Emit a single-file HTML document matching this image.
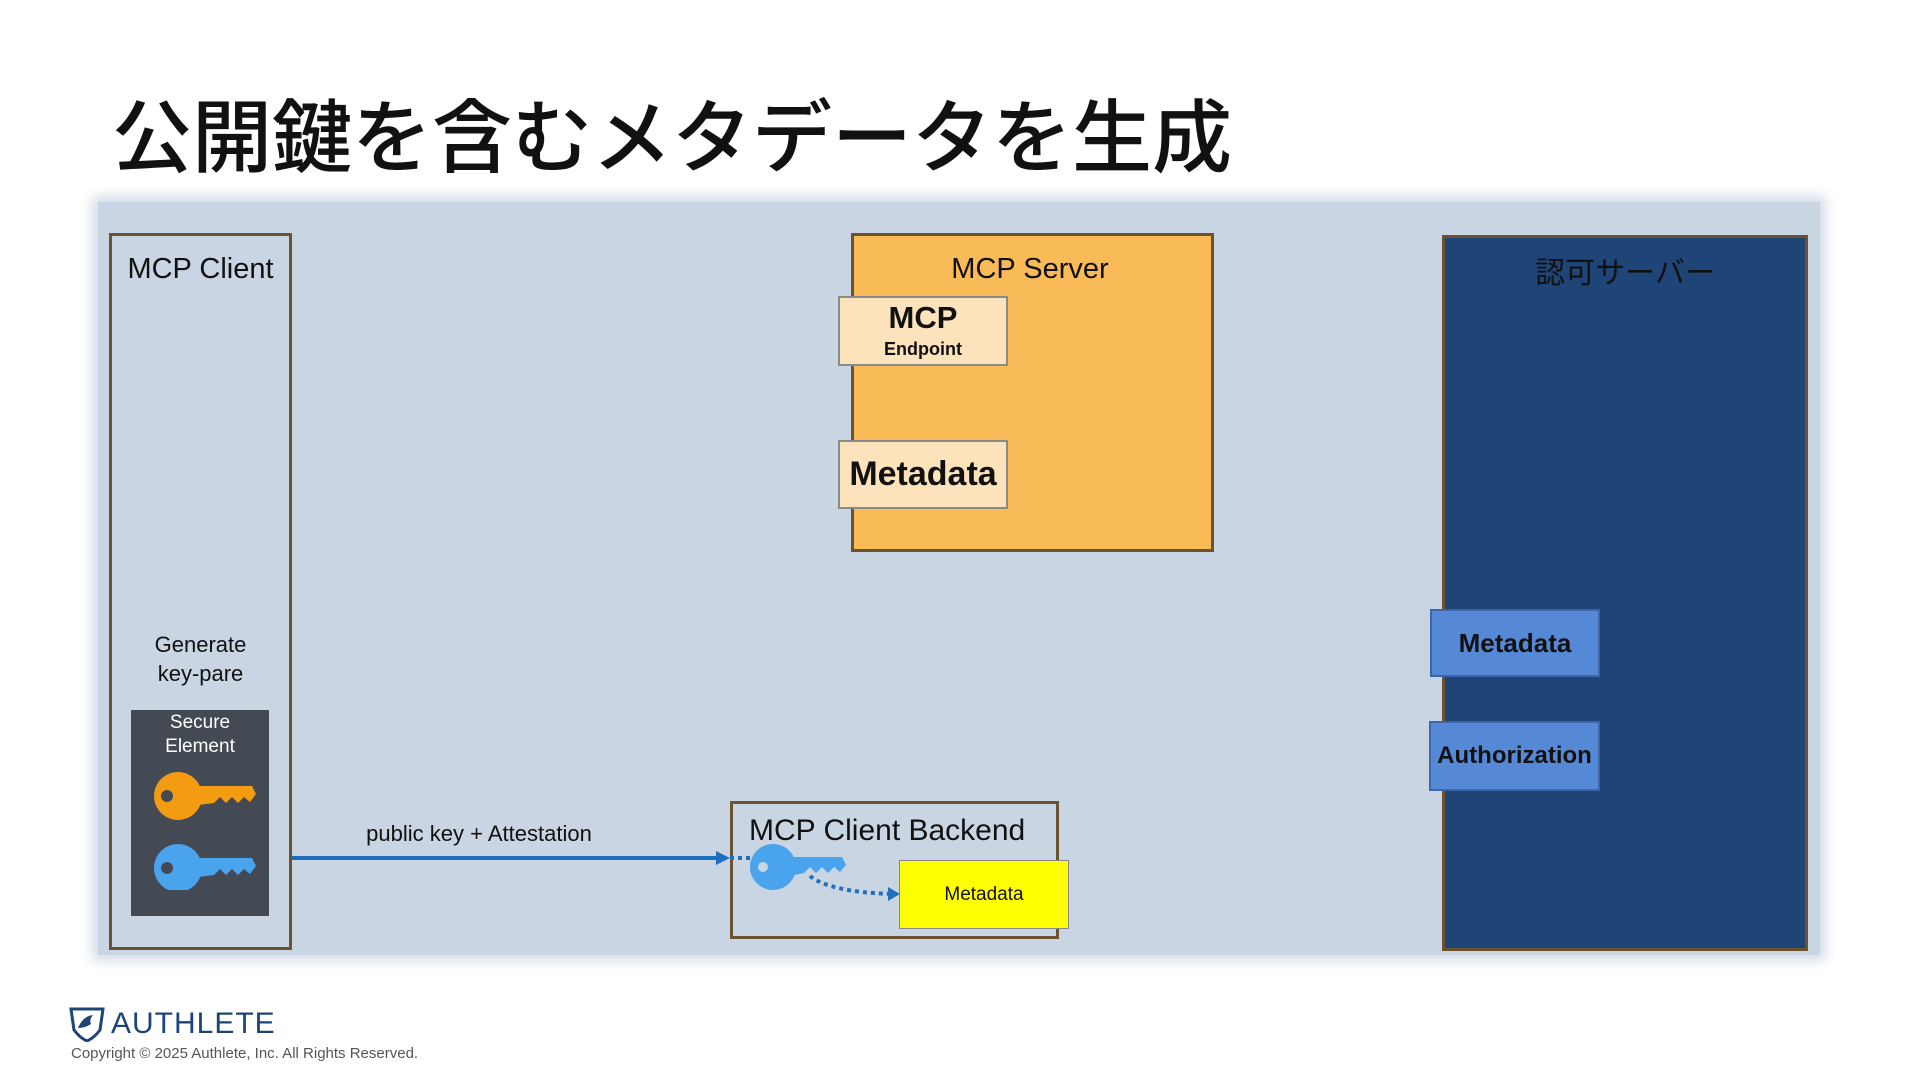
<!DOCTYPE html>
<html><head><meta charset="utf-8"><style>
body{margin:0;width:1920px;height:1080px;background:#fff;position:relative;overflow:hidden;font-family:"Liberation Sans","Noto Sans CJK JP",sans-serif;}
.a{position:absolute;box-sizing:border-box;}
.t{position:absolute;white-space:nowrap;}
</style></head><body>
<div class="t" style="left:112px;top:82px;font-size:80px;font-weight:500;color:#111;font-family:'Noto Sans CJK JP',sans-serif;line-height:100px;">公開鍵を含むメタデータを生成</div>
<div class="a" style="left:98px;top:202px;width:1722px;height:753px;background:#c9d5e2;box-shadow:0 0 12px 6px #d5dde8;"></div>

<div class="a" style="left:109px;top:233px;width:183px;height:717px;border:3px solid #6b5230;"></div>
<div class="t" style="left:109px;width:183px;text-align:center;top:253px;font-size:29px;color:#111;">MCP Client</div>
<div class="t" style="left:109px;width:183px;text-align:center;top:630px;font-size:22px;line-height:29px;color:#111;">Generate<br>key-pare</div>
<div class="a" style="left:131px;top:710px;width:138px;height:206px;background:#434a54;"></div>
<div class="t" style="left:131px;width:138px;text-align:center;top:711px;font-size:19px;line-height:24px;color:#fff;">Secure<br>Element</div>
<svg class="a" style="left:150px;top:770px" width="110" height="120" viewBox="0 0 110 120">
<g fill="#f39c12"><circle cx="28" cy="26" r="24"/><polygon points="40,16 102,16 106,24 100,32 94,27 88,33 82,27 76,33 70,27 64,33 40,36"/><circle cx="17" cy="26" r="6" fill="#434a54"/></g>
<g fill="#4aa3ed"><circle cx="28" cy="98" r="24"/><polygon points="40,88 102,88 106,96 100,104 94,99 88,105 82,99 76,105 70,99 64,105 40,108"/><circle cx="17" cy="98" r="6" fill="#434a54"/></g>
</svg>

<div class="t" style="left:292px;width:374px;text-align:center;top:821px;font-size:22px;color:#111;">public key + Attestation</div>
<svg class="a" style="left:0;top:0" width="1920" height="1080">
<line x1="292" y1="858" x2="718" y2="858" stroke="#1f6fbf" stroke-width="4"/>
<polygon points="716,851 730,858 716,865" fill="#1f6fbf"/>
</svg>

<div class="a" style="left:730px;top:801px;width:329px;height:138px;border:3px solid #6b5230;"></div>
<div class="t" style="left:749px;top:814px;font-size:30px;color:#111;">MCP Client Backend</div>
<div class="a" style="left:899px;top:860px;width:170px;height:69px;background:#ffff00;border:1px solid #888;"></div>
<div class="t" style="left:899px;width:170px;text-align:center;top:884px;font-size:19px;color:#111;">Metadata</div>
<svg class="a" style="left:730px;top:840px" width="180" height="70" viewBox="0 0 180 70">
<line x1="0" y1="18" x2="20" y2="18" stroke="#1f6fbf" stroke-width="4" stroke-dasharray="4 4"/>
<path d="M80 36 Q100 52 162 54" stroke="#1f6fbf" stroke-width="4" fill="none" stroke-dasharray="4 4"/>
<polygon points="158,47 170,54 158,61" fill="#1f6fbf"/>
<g fill="#4aa3ed"><circle cx="43" cy="27" r="23"/><polygon points="55,17 112,17 116,25 110,32 104,27 98,33 92,27 86,33 80,27 74,33 55,37"/><circle cx="33" cy="27" r="5" fill="#c9d5e2"/></g>
</svg>

<div class="a" style="left:851px;top:233px;width:363px;height:319px;background:#f9bb58;border:3px solid #6b5230;"></div>
<div class="t" style="left:900px;width:260px;text-align:center;top:253px;font-size:29px;color:#111;">MCP Server</div>
<div class="a" style="left:838px;top:296px;width:170px;height:70px;background:#fde3bb;border:2px solid #8a8a8a;"></div>
<div class="t" style="left:838px;width:170px;text-align:center;top:300px;font-size:31px;font-weight:bold;color:#111;">MCP</div>
<div class="t" style="left:838px;width:170px;text-align:center;top:339px;font-size:18px;font-weight:bold;color:#111;">Endpoint</div>
<div class="a" style="left:838px;top:440px;width:170px;height:69px;background:#fde3bb;border:2px solid #8a8a8a;"></div>
<div class="t" style="left:838px;width:170px;text-align:center;top:455px;font-size:34px;font-weight:bold;color:#111;">Metadata</div>

<div class="a" style="left:1442px;top:235px;width:366px;height:716px;background:#1f4477;border:3px solid #6b5230;"></div>
<div class="t" style="left:1442px;width:366px;text-align:center;top:248px;font-size:30px;color:#111;font-family:'Noto Sans CJK JP',sans-serif;">認可サーバー</div>
<div class="a" style="left:1430px;top:609px;width:170px;height:68px;background:#5589d6;border:2px solid #3c66a8;"></div>
<div class="t" style="left:1430px;width:170px;text-align:center;top:628px;font-size:26px;font-weight:bold;color:#111;">Metadata</div>
<div class="a" style="left:1429px;top:721px;width:171px;height:70px;background:#5589d6;border:2px solid #3c66a8;"></div>
<div class="t" style="left:1429px;width:171px;text-align:center;top:742px;font-size:24px;font-weight:bold;color:#111;">Authorization</div>

<svg class="a" style="left:69px;top:1006px" width="36" height="36" viewBox="0 0 36 36"><path d="M2 3 L34 3 L31 24 Q25 32 18 35 Q11 32 5 24 Z" fill="none" stroke="#1f4477" stroke-width="3"/><path d="M9 22 Q14 10 24 9 Q20 14 22 18 Q16 22 9 22Z" fill="#1f4477"/></svg>
<div class="t" style="left:111px;top:1008px;font-size:30px;color:#1f4477;letter-spacing:1px;line-height:32px;">AUTHLETE</div>
<div class="t" style="left:71px;top:1045px;font-size:15px;color:#555;">Copyright © 2025 Authlete, Inc. All Rights Reserved.</div>
</body></html>
